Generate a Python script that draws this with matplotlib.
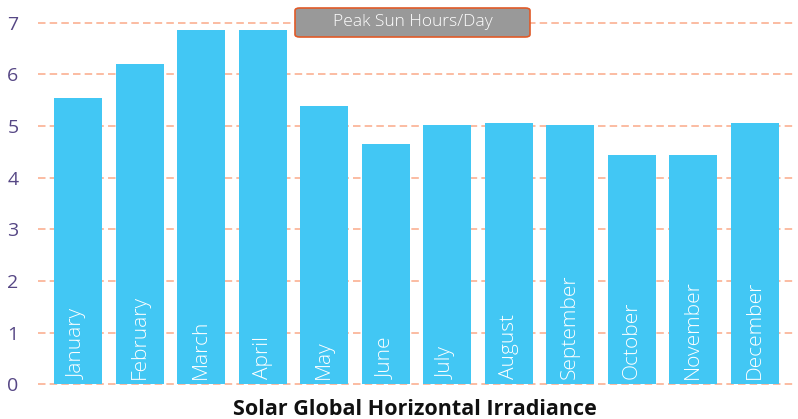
import matplotlib
matplotlib.use("Agg")
import matplotlib.pyplot as plt
from matplotlib.patches import FancyBboxPatch

months = ["January", "February", "March", "April", "May", "June", "July",
          "August", "September", "October", "November", "December"]
peak_sun_hours = [5.54, 6.20, 6.86, 6.86, 5.38, 4.66, 5.02, 5.06, 5.02, 4.43, 4.43, 5.06]
y_ticks = [0, 1, 2, 3, 4, 5, 6, 7]
legend_label = "Peak Sun Hours/Day"
title = "Solar Global Horizontal Irradiance"

plt.rcParams['font.family'] = ['Open Sans', 'DejaVu Sans']

fig = plt.figure(figsize=(7.98, 4.19), dpi=100)
ax = fig.add_axes([0.0476, 0.0828, 0.9484, 0.863])

x = list(range(len(months)))
ax.bar(x, peak_sun_hours, width=0.78, color="#42C7F4", zorder=2)
for xi, m in zip(x, months):
    ax.text(xi, 0.11, m, rotation=90, ha="center", va="bottom",
            color="white", fontsize=15, fontweight="light", zorder=3)

ax.set_xlim(-0.65, 11.65)
ax.set_ylim(0, 7)
ax.set_yticks(y_ticks)
ax.set_yticklabels([str(t) for t in y_ticks], color="#564785", fontsize=14)
ax.tick_params(axis="y", length=0, pad=14)
ax.set_xticks([])
for s in ax.spines.values():
    s.set_visible(False)
for t in y_ticks:
    ax.axhline(t, color="#FBA886", lw=1.2, ls=(0, (4.5, 2.5)), alpha=0.9,
               zorder=1, clip_on=False)

# legend box
bx0, by0, bw, bh = 295 / 798, 1 - 37 / 419, 235 / 798, 29 / 419
box = FancyBboxPatch((bx0, by0), bw, bh, transform=fig.transFigure,
                     boxstyle="round,pad=0,rounding_size=0.006",
                     facecolor="#999999", edgecolor="#E05A28", lw=1.2, zorder=5)
fig.patches.append(box)
fig.text(bx0 + bw / 2, by0 + bh / 2, legend_label, ha="center", va="center",
         color="white", fontsize=12.5, fontweight="light", zorder=6)

fig.text(415 / 798, 1 - 409 / 419, title, ha="center", va="center",
         fontsize=15.5, fontweight="bold", color="#111111")

fig.savefig("out.png", dpi=100)
